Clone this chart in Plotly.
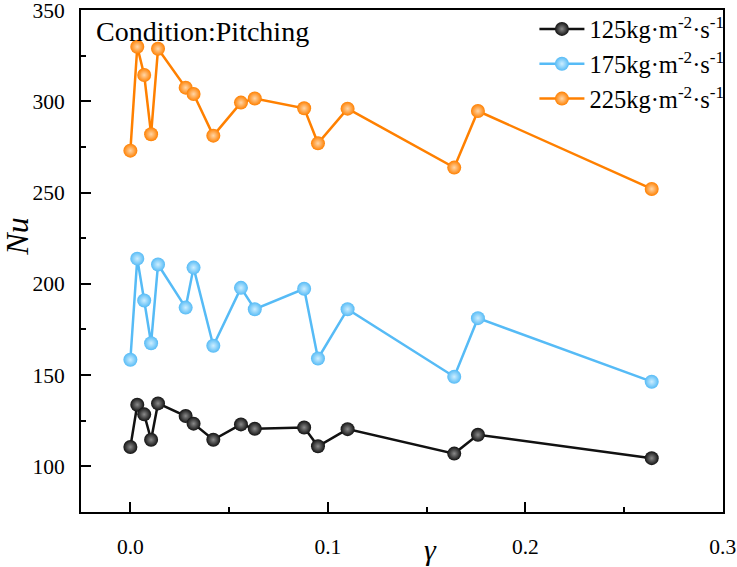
import plotly.graph_objects as go

gamma = [0.0, 0.0035, 0.007, 0.0105, 0.014, 0.028, 0.032, 0.042, 0.056, 0.063,
         0.088, 0.095, 0.110, 0.164, 0.176, 0.264]
nu_125 = [110.6, 133.8, 128.5, 114.6, 134.5, 127.6, 123.4, 114.6, 123.0, 120.6,
          121.3, 111.0, 120.4, 107.0, 117.3, 104.5]
nu_175 = [158.4, 213.8, 190.9, 167.5, 210.6, 187.0, 208.9, 166.1, 197.8, 186.1,
          197.3, 159.1, 186.1, 149.1, 181.2, 146.4]
nu_225 = [273.0, 329.9, 314.4, 282.0, 328.8, 307.5, 304.0, 281.2, 299.3, 301.6,
          296.2, 277.0, 296.0, 263.7, 294.7, 252.0]

series = [
    ("125kg·m<sup>-2</sup>·s<sup>-1</sup>", nu_125, "#111111", "#8a8a8a"),
    ("175kg·m<sup>-2</sup>·s<sup>-1</sup>", nu_175, "#56BBF6", "#CDEEFF"),
    ("225kg·m<sup>-2</sup>·s<sup>-1</sup>", nu_225, "#FF8000", "#FFD6A8"),
]

x_ticks = [0.0, 0.1, 0.2, 0.3]
y_ticks = [100, 150, 200, 250, 300, 350]

FONT = "Liberation Serif"

fig = go.Figure()
for name, vals, col, hi in series:
    fig.add_trace(go.Scatter(
        x=gamma, y=vals, name=name, mode="lines+markers",
        line=dict(color=col, width=2.5),
        marker=dict(size=14, color=col, gradient=dict(type="radial", color=hi),
                    line=dict(width=0)),
    ))

axis_common = dict(
    showline=True, linecolor="black", linewidth=2, mirror=True,
    ticks="inside", ticklen=10, tickwidth=2, tickcolor="black",
    showgrid=False, zeroline=False, ticklabeloverflow="allow",
    automargin=False,
    tickfont=dict(family=FONT, size=21.5, color="black"),
)

fig.update_xaxes(range=[-0.025, 0.3001], tickvals=x_ticks,
                 ticktext=[f"{v:.1f}" for v in x_ticks],
                 minor=dict(ticks="inside", ticklen=5, tickwidth=2, dtick=0.05,
                            tick0=0, tickcolor="black"),
                 ticklabelstandoff=14,
                 **axis_common)
fig.update_yaxes(range=[75, 350.05], tickvals=y_ticks,
                 minor=dict(ticks="inside", ticklen=5, tickwidth=2, dtick=25,
                            tick0=0, tickcolor="black"),
                 ticklabelstandoff=10,
                 **axis_common)

fig.update_layout(
    width=737, height=567,
    margin=dict(l=81, r=14, t=10, b=55, autoexpand=False),
    plot_bgcolor="white", paper_bgcolor="white",
    font=dict(family=FONT, color="black"),
    legend=dict(x=1.01, xanchor="right", y=1.007, yanchor="top",
                bgcolor="rgba(0,0,0,0)", font=dict(family=FONT, size=24.5),
                tracegroupgap=0, itemwidth=45),
    annotations=[
        dict(text="Condition:Pitching", xref="paper", yref="paper",
             x=0.02, y=0.993, xanchor="left", yanchor="top", showarrow=False,
             font=dict(family=FONT, size=28, color="black")),
        dict(text="<i>Nu</i>", xref="paper", yref="paper", x=-0.1, y=0.548,
             xanchor="center", yanchor="middle", textangle=-90, showarrow=False,
             font=dict(family=FONT, size=32, color="black")),
        dict(text="<i>γ</i>", xref="paper", yref="paper", x=0.545, y=-0.075,
             xanchor="center", yanchor="middle", showarrow=False,
             font=dict(family=FONT, size=30, color="black")),
    ],
)

fig.write_html("out.html")
